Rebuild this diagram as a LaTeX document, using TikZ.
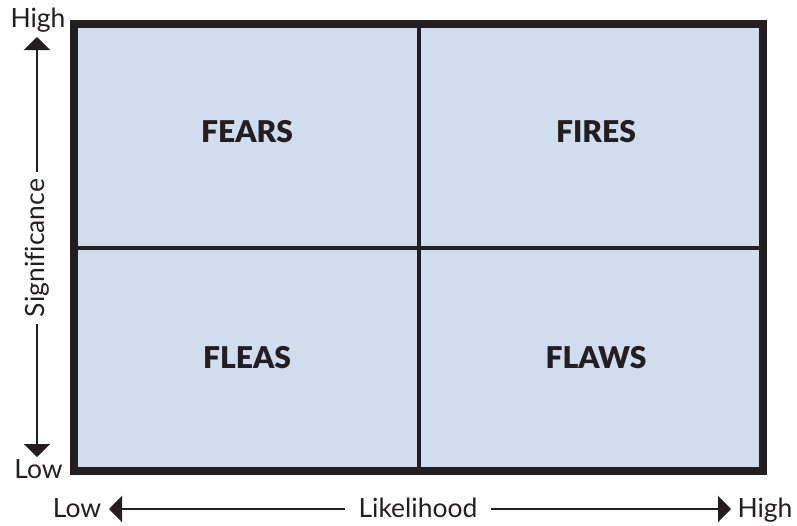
\documentclass[tikz,border=0pt]{standalone}
\usepackage{fontspec}
\setmainfont{Lato}[Ligatures=NoCommon]
\newfontfamily\heavyfont{Lato Black}
\usetikzlibrary{arrows.meta}
\definecolor{ink}{HTML}{231F20}
\definecolor{cell}{HTML}{D0DDEC}
\tikzset{
  axislabel/.style={font=\fontsize{26.5}{30}\selectfont, text=ink, inner sep=0pt},
  quadlabel/.style={font=\fontsize{30}{35}\selectfont\heavyfont, text=ink, inner sep=0pt},
  axisline/.style={draw=ink, line width=2.4pt, -{Triangle[width=26pt,length=13pt]}},
  frame/.style={draw=ink, line width=8pt},
  divider/.style={draw=ink, line width=4pt},
}
\begin{document}
\begin{tikzpicture}[x=1pt,y=-1pt]
\useasboundingbox (0,0) rectangle (797,525);
% grid body
\fill[cell] (70,20) rectangle (767,475);
\draw[divider] (419,24) -- (419,471);
\draw[divider] (74,248) -- (763,248);
\draw[frame] (74,24) rectangle (763,471);
% quadrant names
\node[quadlabel] (fears) at (247,132) {FEARS};
\node[quadlabel] (fires) at (596,132) {FIRES};
\node[quadlabel] (fleas) at (247,358) {FLEAS};
\node[quadlabel] (flaws) at (596,358) {FLAWS};
% vertical axis
\node[axislabel, anchor=base] (vhigh) at (38,27) {High};
\node[axislabel, anchor=base] (vlow) at (38.5,478) {Low};
\node[axislabel, rotate=90, inner xsep=7pt] (sig) at (37,248) {Significance};
\coordinate (vtop) at (37,37);
\coordinate (vbot) at (37,457);
\draw[axisline] (sig.east) -- (vtop);
\draw[axisline] (sig.west) -- (vbot);
% horizontal axis
\node[axislabel, anchor=base] (hlow) at (77,517) {Low};
\node[axislabel, anchor=base] (hhigh) at (765,517) {High};
\node[axislabel, inner xsep=13pt, anchor=base] (like) at (418,517) {Likelihood};
\coordinate (hleft) at (109,509);
\coordinate (hright) at (731,509);
\draw[axisline] (like.west |- hleft) -- (hleft);
\draw[axisline] (like.east |- hright) -- (hright);
\end{tikzpicture}
\end{document}
